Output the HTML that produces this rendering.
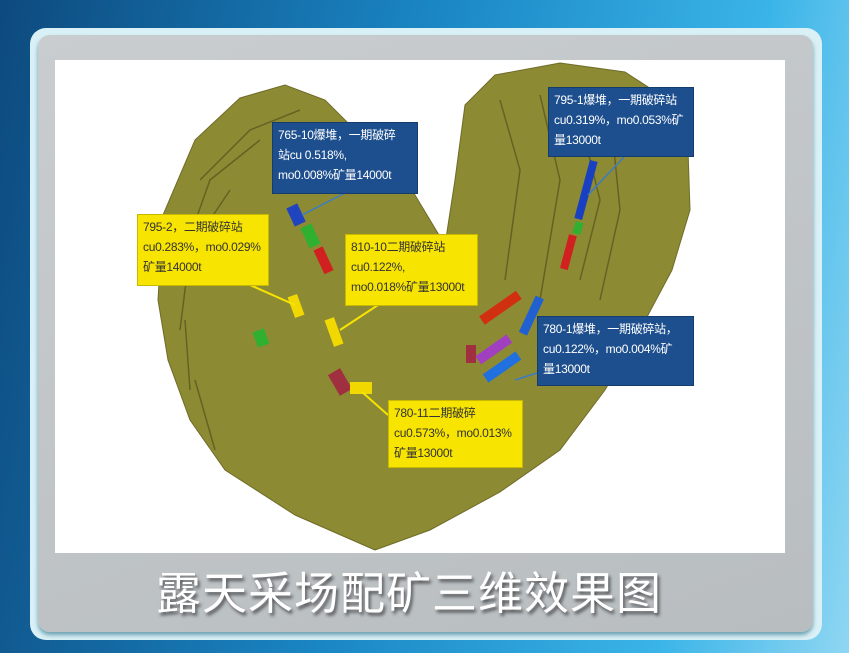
<!DOCTYPE html>
<html><head><meta charset="utf-8"><style>
body{margin:0;width:849px;height:653px;overflow:hidden;background:linear-gradient(100deg,#0d4a7e 0%,#1a86c4 45%,#3ab4e8 80%,#8fd6f2 100%);font-family:"Liberation Sans","Noto Sans CJK SC",sans-serif;position:relative}
.outer{position:absolute;left:30px;top:28px;width:792px;height:612px;border-radius:16px;background:#d9f1f6}
.gray{position:absolute;left:38px;top:35px;width:775px;height:597px;border-radius:12px;background:linear-gradient(160deg,#c9cdcf,#b8bdc0);box-shadow:0 3px 4px rgba(0,80,110,.5)}
.white{position:absolute;left:55px;top:60px;width:730px;height:493px;background:#fff}
.lbl{position:absolute;font-size:12px;line-height:20px;padding:2px 5px;box-sizing:border-box;white-space:nowrap;letter-spacing:-0.3px;font-family:"Liberation Sans","Noto Sans CJK SC",sans-serif;overflow:hidden}
.b{background:#1d4f8e;color:#fff;border:1px solid #163c6c}
.y{background:#f7e400;color:#333;border:1px solid #c8b800}
.title{position:absolute;left:0;width:818px;top:560px;text-align:center;font-size:45px;line-height:60px;color:#fff;text-shadow:2px 3px 3px rgba(0,0,0,.55);font-family:"Noto Sans CJK SC",sans-serif;letter-spacing:1px}
</style></head><body>
<div class="outer"></div><div class="gray"></div><div class="white"></div>
<svg style="position:absolute;left:0;top:0" width="849" height="653">
<path d="M375,550 L295,515 L225,470 L190,420 L168,360 L158,300 L163,215 L195,140 L240,98 L285,85 L325,100 L370,145 L415,195 L445,245 L455,180 L465,105 L495,75 L560,63 L625,72 L668,100 L688,150 L690,210 L672,270 L640,330 L605,390 L560,450 L500,492 L430,530 Z" fill="#8d8a34" stroke="#6e6c28"/>
<g stroke="#5b5920" stroke-width="1.5" fill="none" opacity=".8">
<path d="M200,180 L250,130 L300,110"/><path d="M185,250 L210,180 L260,140"/><path d="M180,330 L190,250 L230,190"/>
<path d="M190,390 L185,320"/><path d="M215,450 L195,380"/>
<path d="M500,100 L520,170 L505,280"/><path d="M540,95 L560,180 L540,300"/><path d="M575,100 L600,200 L580,280"/><path d="M610,110 L620,210 L600,300"/>
</g>
<rect x="290" y="205" width="12" height="20" fill="#2044c0" transform="rotate(-25 296 215)"/>
<rect x="304" y="225" width="12" height="22" fill="#30b030" transform="rotate(-25 310 235)"/>
<rect x="318" y="247" width="10" height="26" fill="#d02020" transform="rotate(-25 324 259)"/>
<rect x="582" y="160" width="8" height="60" fill="#1840c0" transform="rotate(15 586 190)"/>
<rect x="574" y="222" width="8" height="12" fill="#30b030" transform="rotate(15 578 228)"/>
<rect x="565" y="235" width="8" height="35" fill="#d02020" transform="rotate(15 570 250)"/>
<rect x="495" y="285" width="10" height="45" fill="#d03010" transform="rotate(55 500 308)"/>
<rect x="527" y="295" width="9" height="40" fill="#2060d0" transform="rotate(25 530 315)"/>
<rect x="488" y="330" width="10" height="38" fill="#a040c0" transform="rotate(55 493 350)"/>
<rect x="466" y="345" width="10" height="18" fill="#a03040"/>
<rect x="497" y="347" width="10" height="40" fill="#2070e0" transform="rotate(55 502 367)"/>
<rect x="255" y="330" width="12" height="16" fill="#30b030" transform="rotate(-20 261 338)"/>
<rect x="333" y="370" width="14" height="24" fill="#a03040" transform="rotate(-30 340 382)"/>
<rect x="350" y="382" width="22" height="12" fill="#f0d800"/>
<rect x="291" y="295" width="10" height="22" fill="#f0d800" transform="rotate(-20 296 306)"/>
<rect x="329" y="318" width="10" height="28" fill="#f0d800" transform="rotate(-20 334 332)"/>
<g stroke="#f7e400" stroke-width="2"><line x1="250" y1="285" x2="295" y2="305"/><line x1="378" y1="305" x2="340" y2="330"/><line x1="388" y1="415" x2="362" y2="392"/></g>
<g stroke="#3a7cc8" stroke-width="1.5"><line x1="345" y1="193" x2="302" y2="215"/><line x1="625" y1="156" x2="588" y2="195"/><line x1="537" y1="373" x2="515" y2="380"/></g>
</svg>
<div class="lbl b" style="left:272px;top:122px;width:146px;height:72px">765-10爆堆，一期破碎<br>站cu 0.518%,<br>mo0.008%矿量14000t</div>
<div class="lbl b" style="left:548px;top:87px;width:146px;height:70px">795-1爆堆，一期破碎站<br>cu0.319%，mo0.053%矿<br>量13000t</div>
<div class="lbl b" style="left:537px;top:316px;width:157px;height:70px">780-1爆堆，一期破碎站，<br>cu0.122%，mo0.004%矿<br>量13000t</div>
<div class="lbl y" style="left:137px;top:214px;width:132px;height:72px">795-2，二期破碎站<br>cu0.283%，mo0.029%<br>矿量14000t</div>
<div class="lbl y" style="left:345px;top:234px;width:133px;height:72px">810-10二期破碎站<br>cu0.122%,<br>mo0.018%矿量13000t</div>
<div class="lbl y" style="left:388px;top:400px;width:135px;height:68px">780-11二期破碎<br>cu0.573%，mo0.013%<br>矿量13000t</div>
<div class="title">露天采场配矿三维效果图</div>
</body></html>
